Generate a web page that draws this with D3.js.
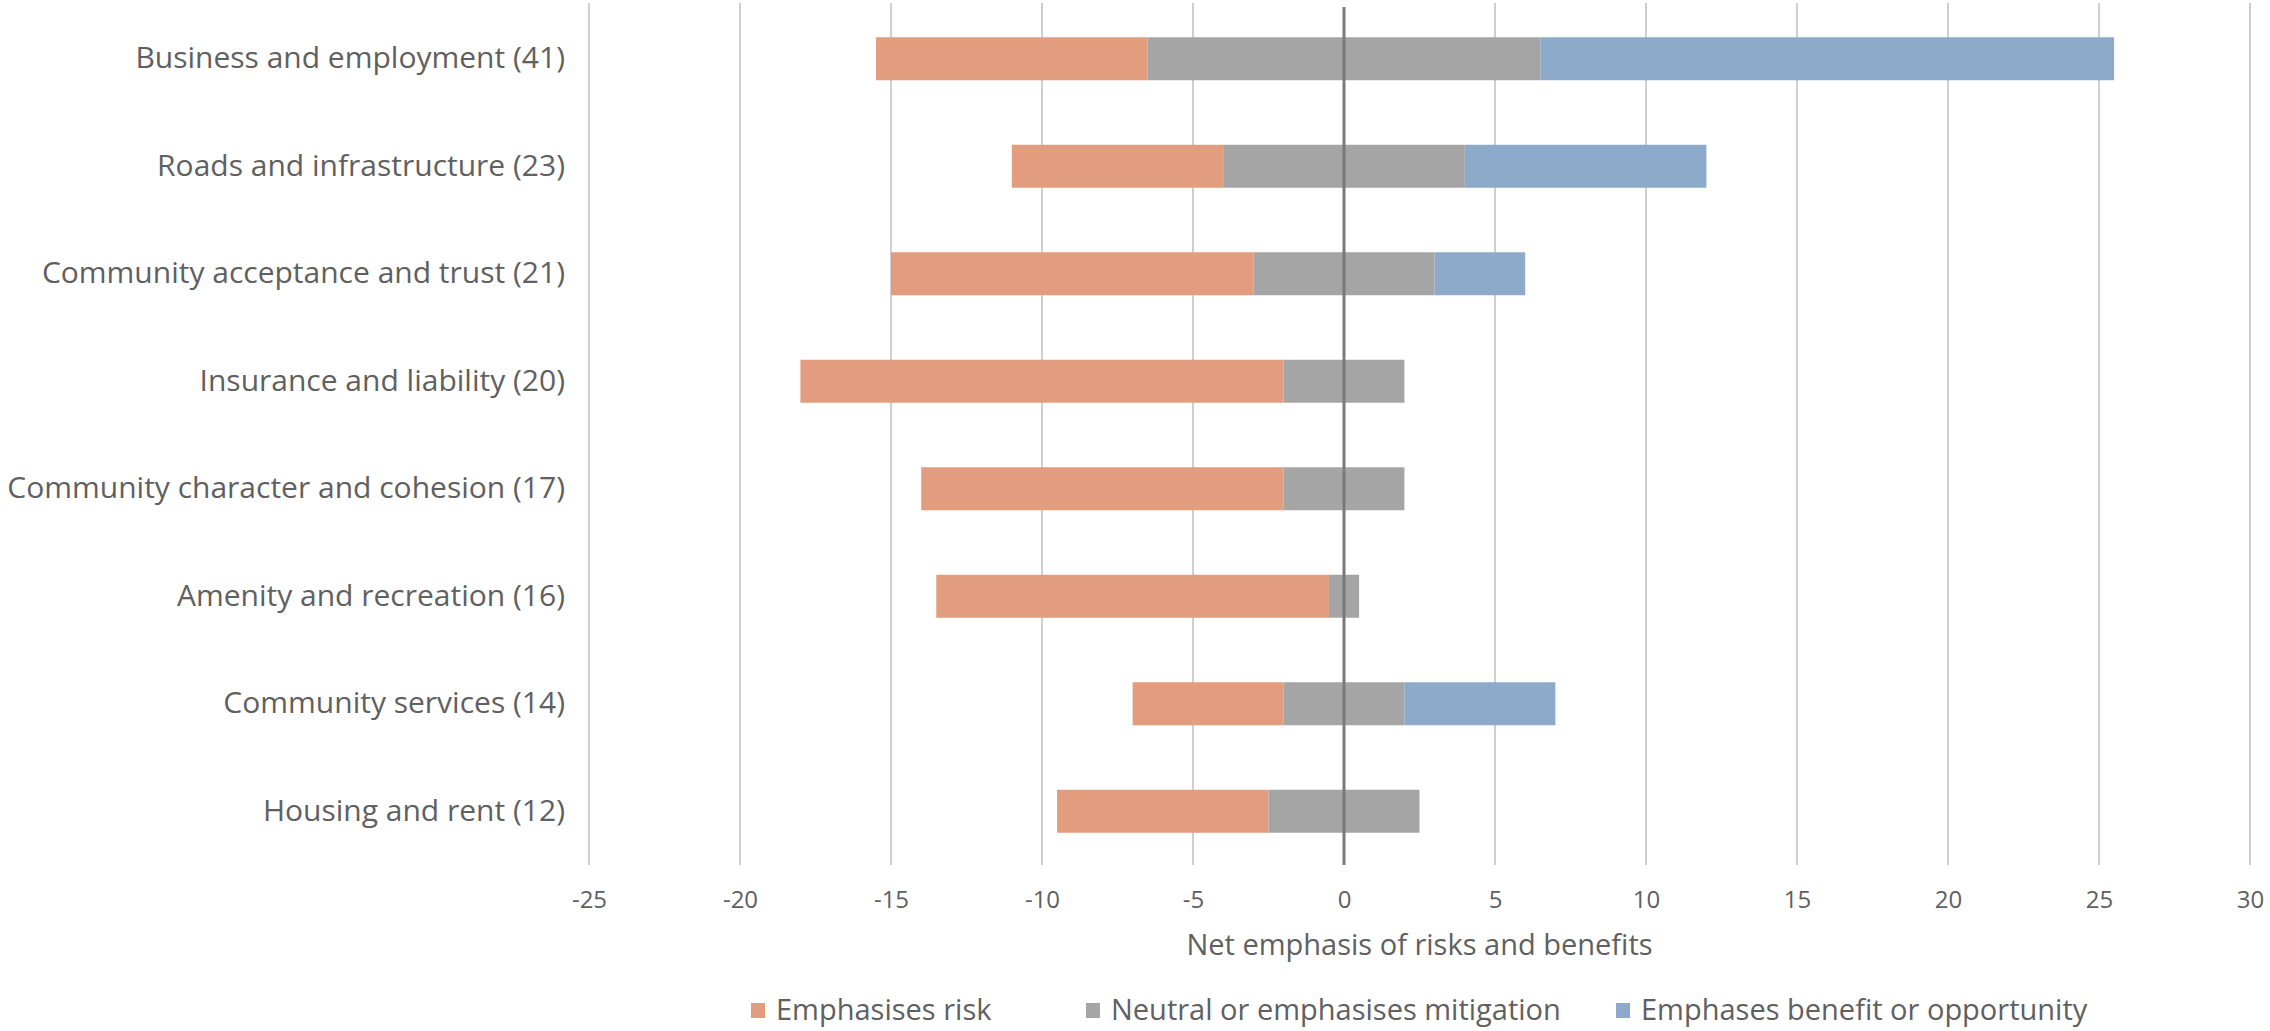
<!DOCTYPE html>
<html>
<head>
<meta charset="utf-8">
<script src="https://cdn.jsdelivr.net/npm/d3@7"></script>
<style>
  html, body { margin: 0; padding: 0; background: #ffffff; }
  svg { display: block; font-family: "Open Sans", sans-serif; }
</style>
</head>
<body>
<svg id="chart" width="2270" height="1031"></svg>
<script>
// Topics with the number of mentions in brackets
const categories = [
  "Business and employment (41)",
  "Roads and infrastructure (23)",
  "Community acceptance and trust (21)",
  "Insurance and liability (20)",
  "Community character and cohesion (17)",
  "Amenity and recreation (16)",
  "Community services (14)",
  "Housing and rent (12)"
];
// Counts per stance; neutral is split evenly either side of zero
const riskValues    = [9, 7, 12, 16, 12, 13, 5, 7];
const neutralValues = [13, 8, 6, 4, 4, 1, 4, 5];
const benefitValues = [19, 8, 3, 0, 0, 0, 5, 0];

const seriesNames = [
  "Emphasises risk",
  "Neutral or emphasises mitigation",
  "Emphases benefit or opportunity"
];
const xTicks = [-25, -20, -15, -10, -5, 0, 5, 10, 15, 20, 25, 30];
const xTitle = "Net emphasis of risks and benefits";

const colors = ["#e29d7f", "#a5a5a5", "#8eaacb"];
const textColor = "#606060";

const svg = d3.select("#chart");
const plot = { left: 589, right: 2250, top: 5, bottom: 865 };

const x = d3.scaleLinear().domain([-25, 30]).range([plot.left, plot.right]);
const y = d3.scaleBand().domain(categories).range([plot.top, plot.bottom])
  .paddingInner(0.6).paddingOuter(0.3);

// Vertical gridlines
svg.append("g").selectAll("line").data(xTicks.filter(d => d !== 0)).join("line")
  .attr("x1", d => x(d)).attr("x2", d => x(d))
  .attr("y1", plot.top - 2).attr("y2", plot.bottom)
  .attr("stroke", "#cfcfcf").attr("stroke-width", 2);

// Stacked segments: risk left of the neutral half, benefit right of it
const rows = categories.map((c, i) => {
  const h = neutralValues[i] / 2;
  return [
    { cat: c, s: 0, x0: -h - riskValues[i], x1: -h },
    { cat: c, s: 1, x0: -h, x1: h },
    { cat: c, s: 2, x0: h, x1: h + benefitValues[i] }
  ];
}).flat().filter(d => d.x1 > d.x0);

svg.append("g").selectAll("rect").data(rows).join("rect")
  .attr("x", d => x(d.x0))
  .attr("width", d => x(d.x1) - x(d.x0))
  .attr("y", d => y(d.cat))
  .attr("height", y.bandwidth())
  .attr("fill", d => colors[d.s]);

// Zero line over the bars
svg.append("line")
  .attr("x1", x(0)).attr("x2", x(0))
  .attr("y1", plot.top + 2).attr("y2", plot.bottom)
  .attr("stroke", "#7a7a7a").attr("stroke-width", 3);

// Category labels
const yAxis = d3.axisLeft(y).tickSize(0).tickPadding(24);
const yg = svg.append("g").attr("transform", `translate(${plot.left},0)`).call(yAxis);
yg.select(".domain").remove();
yg.selectAll("text").attr("font-size", 30).attr("fill", textColor)
  .attr("font-family", "Open Sans, sans-serif");

// Value axis labels
const xAxis = d3.axisBottom(x).tickValues(xTicks).tickSize(0).tickPadding(26)
  .tickFormat(d => d < 0 ? "-" + Math.abs(d) : String(d));
const xg = svg.append("g").attr("transform", `translate(0,${plot.bottom})`).call(xAxis);
xg.select(".domain").remove();
xg.selectAll("text").attr("font-size", 24).attr("fill", textColor)
  .attr("font-family", "Open Sans, sans-serif");

// Axis title
svg.append("text")
  .attr("x", (plot.left + plot.right) / 2).attr("y", 955)
  .attr("text-anchor", "middle")
  .attr("font-size", 29).attr("fill", textColor)
  .text(xTitle);

// Legend
const legendX = [751, 1086, 1616];
const lg = svg.append("g").selectAll("g").data(seriesNames).join("g")
  .attr("transform", (d, i) => `translate(${legendX[i]},1020)`);
lg.append("rect").attr("x", 0).attr("y", -17).attr("width", 14).attr("height", 15)
  .attr("fill", (d, i) => colors[i]);
lg.append("text").attr("x", 25).attr("y", 0)
  .attr("font-size", 29).attr("fill", textColor)
  .text(d => d);
</script>
</body>
</html>
